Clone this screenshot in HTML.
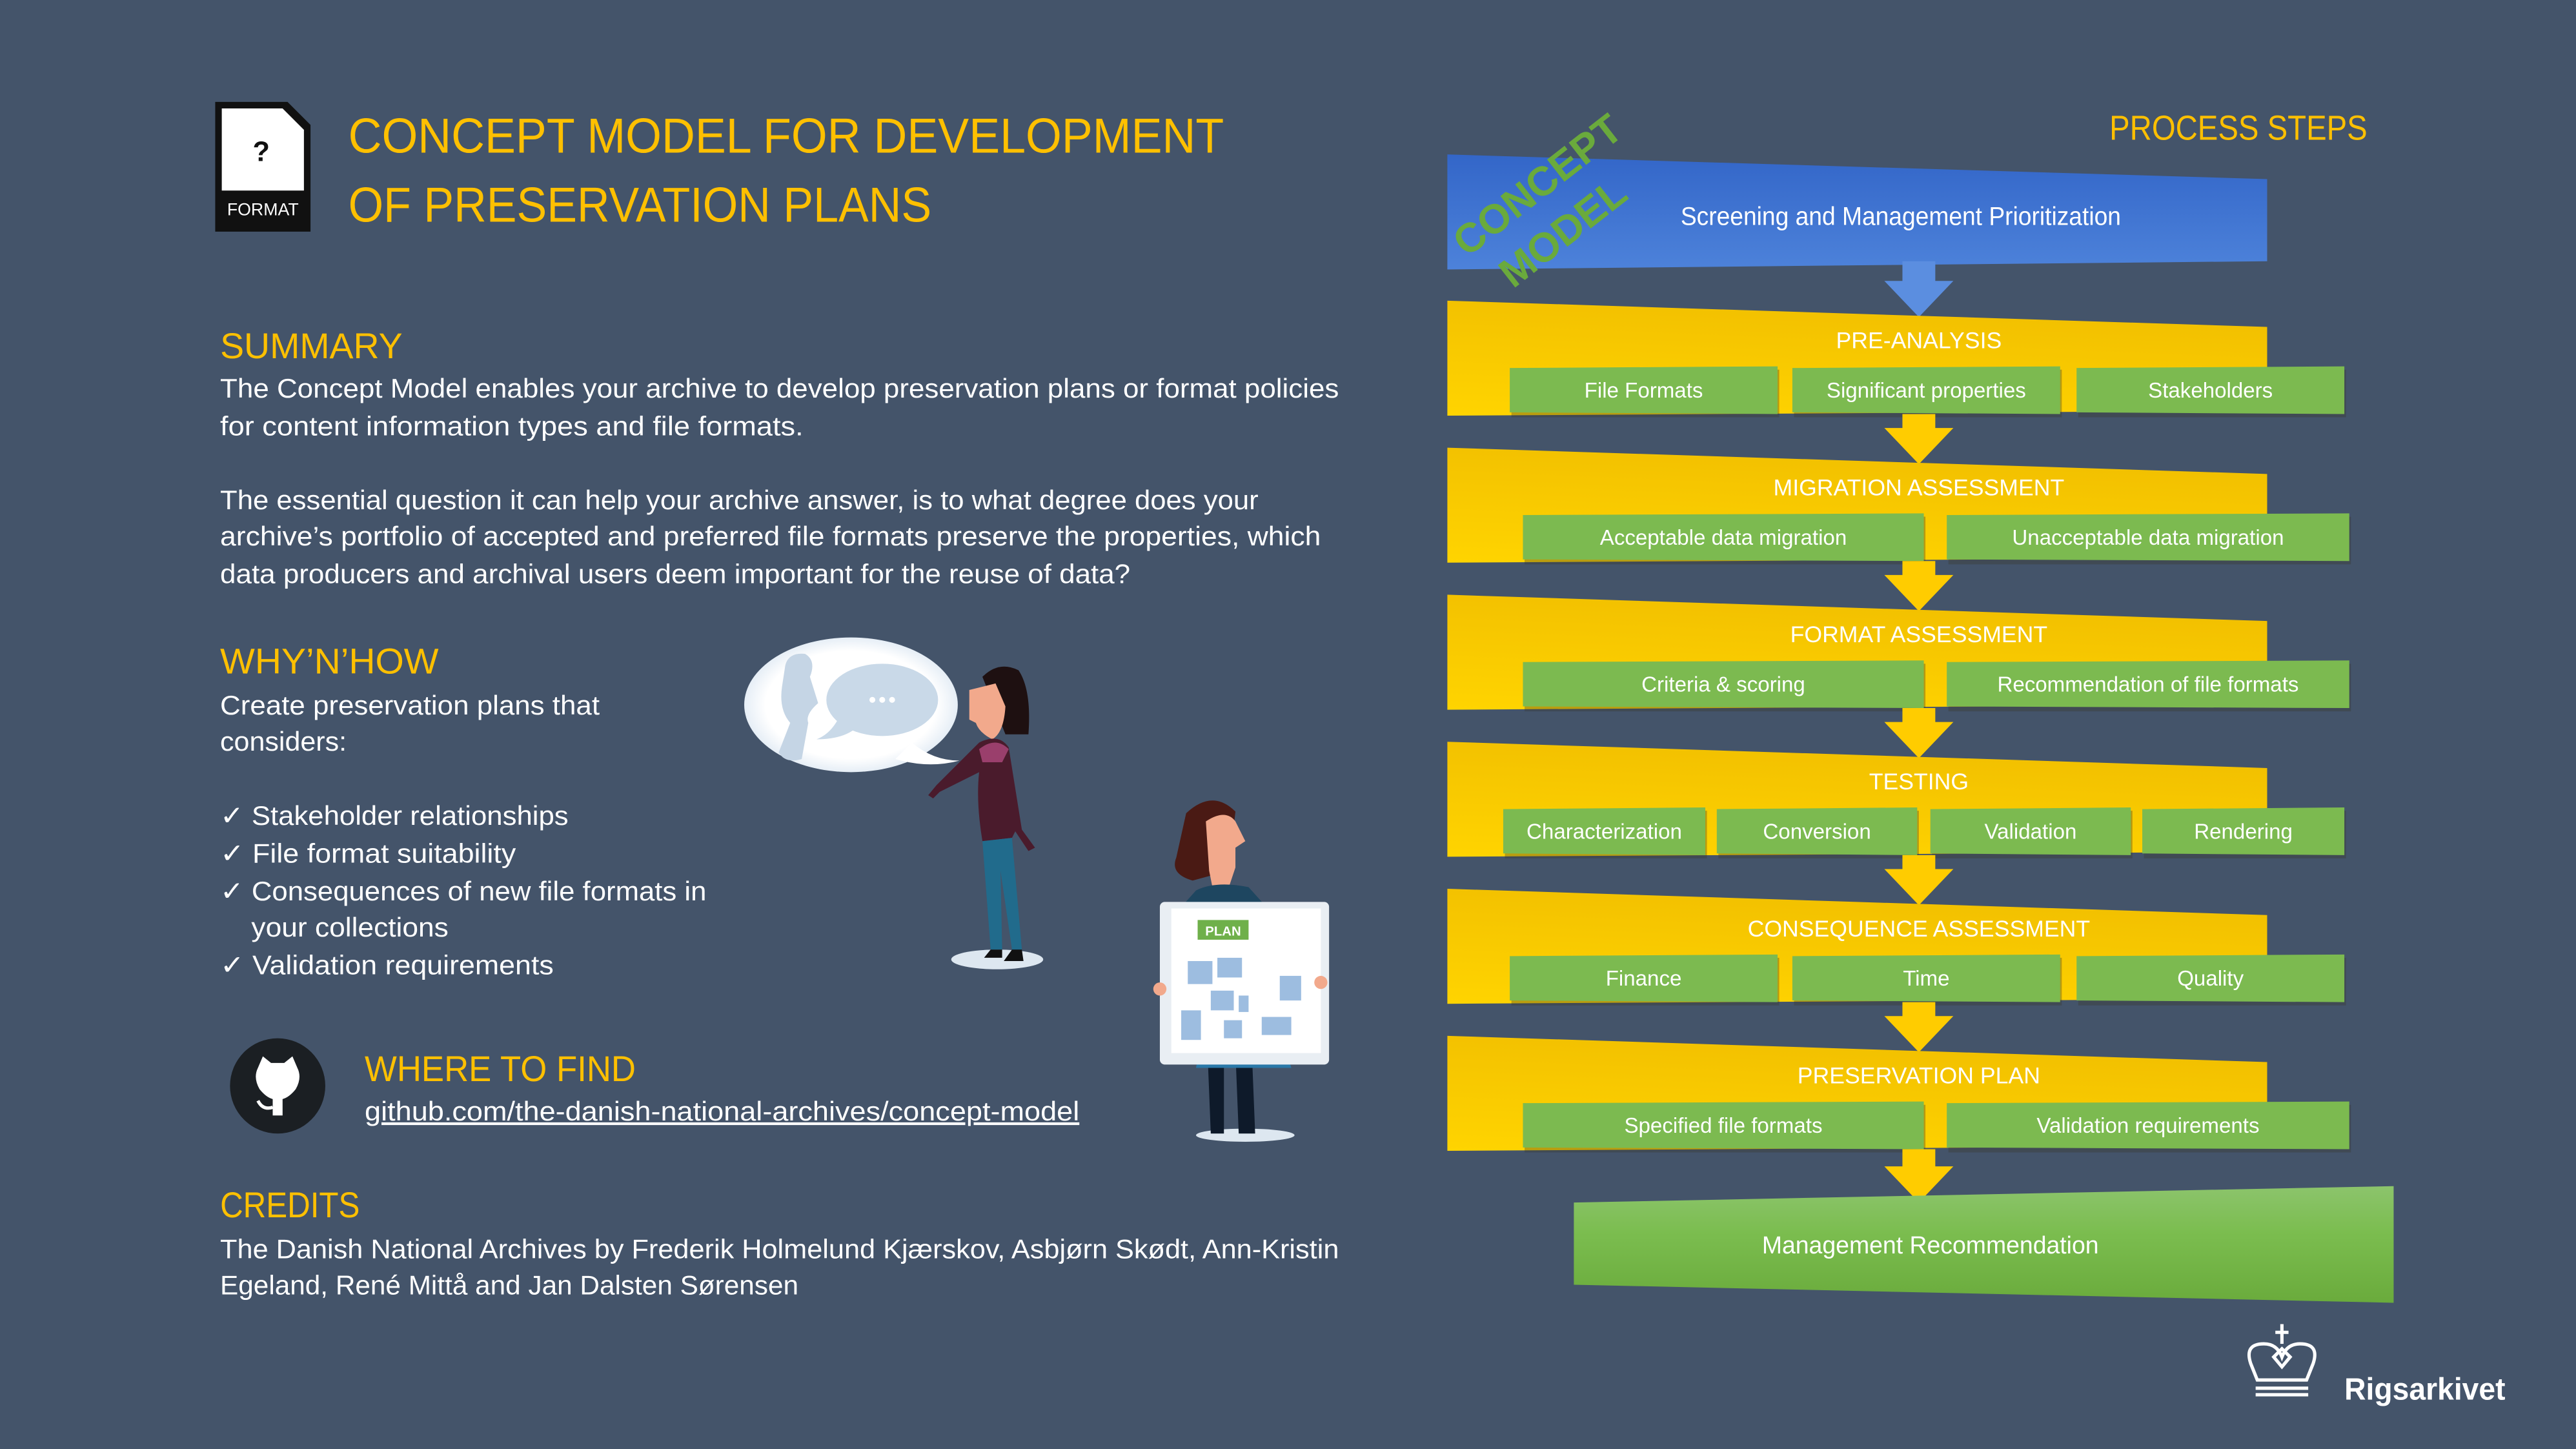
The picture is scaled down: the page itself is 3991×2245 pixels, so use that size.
<!DOCTYPE html>
<html><head><meta charset="utf-8">
<style>
html,body{margin:0;padding:0;background:#44546a;}
svg{display:block}
text{font-family:"Liberation Sans",sans-serif;}
</style></head>
<body>
<svg id="root" width="3991" height="2245" viewBox="0 0 1568 882" xmlns="http://www.w3.org/2000/svg">
<defs>
<linearGradient id="gy" x1="0" y1="1" x2="0.3" y2="0"><stop offset="0" stop-color="#ffd400"/><stop offset="1" stop-color="#f2c000"/></linearGradient>
<linearGradient id="gb" x1="0" y1="0" x2="0" y2="1"><stop offset="0" stop-color="#3366c8"/><stop offset="1" stop-color="#4d82da"/></linearGradient>
<linearGradient id="gg" x1="0" y1="0" x2="0" y2="1"><stop offset="0" stop-color="#8cc46c"/><stop offset="0.4" stop-color="#7bbd4f"/><stop offset="1" stop-color="#6aab3c"/></linearGradient>
<radialGradient id="bub"><stop offset="0.8" stop-color="#fff"/><stop offset="1" stop-color="#e6eef6"/></radialGradient>
</defs>
<rect x="0" y="0" width="1568" height="882" fill="#44546a"/>

<g>
<path d="M131,62 H175 L189,76 V141 H131 Z" fill="#111"/>
<path d="M135,66 H172 L185,79 V116 H135 Z" fill="#fff"/>
<text x="159" y="98" font-size="17" font-weight="bold" text-anchor="middle" fill="#111">?</text>
<text x="160" y="131" font-size="10.5" text-anchor="middle" fill="#fff">FORMAT</text>
</g>
<text x="212" y="93" font-size="30" fill="#ffc000" textLength="533" lengthAdjust="spacingAndGlyphs">CONCEPT MODEL FOR DEVELOPMENT</text>
<text x="212" y="135" font-size="30" fill="#ffc000" textLength="355" lengthAdjust="spacingAndGlyphs">OF PRESERVATION PLANS</text>

<g fill="#fff" font-size="16.5">
<text x="134" y="218" font-size="22" fill="#ffc000" textLength="111" lengthAdjust="spacingAndGlyphs">SUMMARY</text>
<text x="134" y="242" textLength="681" lengthAdjust="spacingAndGlyphs">The Concept Model enables your archive to develop preservation plans or format policies</text>
<text x="134" y="265" textLength="355" lengthAdjust="spacingAndGlyphs">for content information types and file formats.</text>
<text x="134" y="310" textLength="632" lengthAdjust="spacingAndGlyphs">The essential question it can help your archive answer, is to what degree does your</text>
<text x="134" y="332" textLength="670" lengthAdjust="spacingAndGlyphs">archive’s portfolio of accepted and preferred file formats preserve the properties, which</text>
<text x="134" y="355" textLength="554" lengthAdjust="spacingAndGlyphs">data producers and archival users deem important for the reuse of data?</text>
<text x="134" y="410" font-size="22" fill="#ffc000" textLength="133" lengthAdjust="spacingAndGlyphs">WHY’N’HOW</text>
<text x="134" y="435" textLength="231" lengthAdjust="spacingAndGlyphs">Create preservation plans that</text>
<text x="134" y="457" textLength="77" lengthAdjust="spacingAndGlyphs">considers:</text>
<text x="134" y="502" textLength="212" lengthAdjust="spacingAndGlyphs">✓ Stakeholder relationships</text>
<text x="134" y="525" textLength="180" lengthAdjust="spacingAndGlyphs">✓ File format suitability</text>
<text x="134" y="548" textLength="296" lengthAdjust="spacingAndGlyphs">✓ Consequences of new file formats in</text>
<text x="153" y="570" textLength="120" lengthAdjust="spacingAndGlyphs">your collections</text>
<text x="134" y="593" textLength="203" lengthAdjust="spacingAndGlyphs">✓ Validation requirements</text>
<text x="222" y="658" font-size="22" fill="#ffc000" textLength="165" lengthAdjust="spacingAndGlyphs">WHERE TO FIND</text>
<text x="222" y="682" text-decoration="underline" textLength="435" lengthAdjust="spacingAndGlyphs">github.com/the-danish-national-archives/concept-model</text>
<text x="134" y="741" font-size="22" fill="#ffc000" textLength="85" lengthAdjust="spacingAndGlyphs">CREDITS</text>
<text x="134" y="766" textLength="681" lengthAdjust="spacingAndGlyphs">The Danish National Archives by Frederik Holmelund Kjærskov, Asbjørn Skødt, Ann-Kristin</text>
<text x="134" y="788" textLength="352" lengthAdjust="spacingAndGlyphs">Egeland, René Mittå and Jan Dalsten Sørensen</text>
</g>

<g>
<circle cx="169" cy="661" r="29" fill="#1b1f23"/>
<path d="M157,650 L160,643 L165,647 H173 L178,643 L181,650 Q184,656 180,663 Q176,668 172,669 V679 H166 V669 Q162,668 158,663 Q154,656 157,650 Z" fill="#fff"/>
<path d="M166,674 Q160,676 157,670" stroke="#fff" stroke-width="2" fill="none"/>
</g>

<g>
<ellipse cx="518" cy="429" rx="65" ry="41" fill="url(#bub)"/>
<path d="M555,452 Q568,463 584,463 Q565,468 545,462 Z" fill="#fff"/>
<path d="M478,405 Q480,397 490,398 Q497,402 493,412 L498,428 Q490,435 492,440 L488,462 Q478,465 474,458 L481,440 Q474,432 476,418 Z" fill="#c5d5e5"/>
<ellipse cx="537" cy="426" rx="34" ry="22" fill="#c9d9e8"/>
<path d="M510,438 Q505,447 497,450 Q512,450 520,444 Z" fill="#c9d9e8"/>
<circle cx="531" cy="426" r="1.8" fill="#fff"/><circle cx="537" cy="426" r="1.8" fill="#fff"/><circle cx="543" cy="426" r="1.8" fill="#fff"/>
</g>
<g>
<ellipse cx="607" cy="584" rx="28" ry="6" fill="#dde7f0"/>
<path d="M598,412 Q608,402 620,408 Q628,420 626,447 L612,447 Z" fill="#1e1011"/>
<path d="M590,420 L606,416 L612,430 Q611,446 604,450 Q596,446 594,440 L590,438 Z" fill="#f2a98c"/>
<path d="M596,452 Q608,446 614,455 L622,505 L630,516 L626,518 L618,506 L616,510 L598,512 Q594,488 596,470 L572,482 L568,486 L565,484 L570,478 Z" fill="#4a1b2c"/>
<path d="M596,456 Q606,448 614,456 L610,464 L598,464 Z" fill="#9a3f6c"/>
<path d="M598,512 L616,510 L622,578 L616,578 L609,530 L610,578 L603,578 Z" fill="#216b8c"/>
<path d="M603,578 L610,578 L610,583 L599,583 Z M616,578 L622,578 L623,585 L611,585 Z" fill="#111"/>
</g>
<g>
<ellipse cx="758" cy="691" rx="30" ry="4" fill="#dde7f0"/>
<path d="M722,495 Q738,480 752,494 L748,530 L726,536 Q712,532 716,522 Z" fill="#4a1a14"/>
<path d="M734,500 Q746,492 752,500 L758,512 L752,516 L752,528 L748,540 L738,540 L736,530 Z" fill="#f2a98c"/>
<path d="M728,542 Q740,536 760,540 L778,560 L712,560 Z" fill="#1e4660"/>
<path d="M735,640 L745,640 L745,690 L737,690 Z M752,640 L762,640 L764,690 L754,690 Z" fill="#0e1a2a"/>
<path d="M732,630 L780,630 L786,650 L728,650 Z" fill="#2a78a8"/>
<rect x="706" y="549" width="103" height="99" rx="3" fill="#e9eef3"/>
<rect x="713" y="553" width="91" height="88" fill="#fff"/>
<rect x="729" y="560" width="31" height="12" fill="#6fb04a"/>
<text x="744.5" y="569.5" font-size="8" font-weight="bold" fill="#fff" text-anchor="middle">PLAN</text>
<g fill="#9dbde0">
<rect x="723" y="585" width="15" height="14"/><rect x="741" y="583" width="15" height="12"/><rect x="779" y="594" width="13" height="15"/>
<rect x="737" y="603" width="14" height="12"/><rect x="754" y="606" width="6" height="10"/>
<rect x="719" y="615" width="12" height="18"/><rect x="745" y="621" width="11" height="11"/><rect x="768" y="619" width="18" height="11"/>
</g>
<circle cx="706" cy="602" r="4" fill="#f2a98c"/><circle cx="804" cy="598" r="4" fill="#f2a98c"/>
</g>

<text x="1441" y="85" font-size="21" fill="#ffc000" text-anchor="end" textLength="157" lengthAdjust="spacingAndGlyphs">PROCESS STEPS</text>
<g id="flow"></g>
<g fill="#6aaa3c" font-size="25" font-weight="bold">
<text transform="translate(893,157) rotate(-38)">CONCEPT</text>
<text transform="translate(921,176) rotate(-38)">MODEL</text>
</g>

<g fill="none" stroke="#fff" stroke-width="2">
<line x1="1389" y1="806" x2="1389" y2="818"/><line x1="1385" y1="811" x2="1393" y2="811"/>
<path d="M1370,830 Q1366,818 1378,818 Q1386,818 1389,826 Q1392,818 1400,818 Q1412,818 1408,830 L1404,840 H1374 Z"/>
<path d="M1384,826 L1389,821 L1394,826 L1389,832 Z"/>
<line x1="1373" y1="845" x2="1405" y2="845"/><line x1="1373" y1="849" x2="1405" y2="849"/>
</g>
<text x="1427" y="852" font-size="19" font-weight="bold" fill="#fff" textLength="98" lengthAdjust="spacingAndGlyphs">Rigsarkivet</text>
</svg>

<script>
const stepTitles = ["PRE-ANALYSIS","MIGRATION ASSESSMENT","FORMAT ASSESSMENT","TESTING","CONSEQUENCE ASSESSMENT","PRESERVATION PLAN"];
const stepSubs = [
  ["File Formats","Significant properties","Stakeholders"],
  ["Acceptable data migration","Unacceptable data migration"],
  ["Criteria & scoring","Recommendation of file formats"],
  ["Characterization","Conversion","Validation","Rendering"],
  ["Finance","Time","Quality"],
  ["Specified file formats","Validation requirements"]
];
const topLabel = "Screening and Management Prioritization";
const bottomLabel = "Management Recommendation";

const NS="http://www.w3.org/2000/svg";
const flow=document.getElementById('flow');
function mk(tag,attrs,parent){const e=document.createElementNS(NS,tag);for(const k in attrs)e.setAttribute(k,attrs[k]);(parent||flow).appendChild(e);return e;}
const L=881,R=1380,CX=1168,first=183,period=89.5;
const layouts={3:[[919,1082],[1091,1254],[1264,1427]],2:[[927,1171],[1185,1430]],4:[[915,1038],[1045,1167],[1175,1297],[1304,1427]]};

function arrow(y0,y1,color){
  const a=mk('path',{d:`M${CX-10},${y0} H${CX+10} V${y1-22} H${CX+21} L${CX},${y1} L${CX-21},${y1-22} H${CX-10} Z`,fill:color});
  
  
}

const blue=mk('polygon',{points:`${L},94 ${R},109 ${R},159 ${L},164`,fill:'url(#gb)'});


const bt=mk('text',{x:1157,y:137,'font-size':15.5,fill:'#fff','text-anchor':'middle',textLength:268,lengthAdjust:'spacingAndGlyphs'});
bt.textContent=topLabel;


arrow(159,first+10,'#5b8ee0');

stepTitles.forEach((title,i)=>{
  const t=first+i*period;
  const g=mk('g',{});
  
  
  mk('polygon',{points:`${L},${t} ${R},${t+16} ${R},${t+67} ${L},${t+70}`,fill:'url(#gy)'},g);
  const tt=mk('text',{x:CX,y:t+29,'font-size':14,fill:'#fff','text-anchor':'middle'},g);
  tt.textContent=title;
  
  
  const subs=stepSubs[i];
  const lay=layouts[subs.length];
  subs.forEach((s,j)=>{
    const [x0,x1]=lay[j];
    mk('rect',{x:x0+1,y:t+42,width:x1-x0,height:29,fill:'#3a3a2a',opacity:0.35},g);
    const b=mk('polygon',{points:`${x0},${t+41} ${x1},${t+40} ${x1},${t+69} ${x0},${t+68}`,fill:'#7cba50'},g);
    
    
    const st=mk('text',{x:(x0+x1)/2,y:t+59,'font-size':13,fill:'#fff','text-anchor':'middle'},g);
    st.textContent=s;
    
    
  });
  const next=first+(i+1)*period;
  arrow(t+69,i<stepTitles.length-1?next+10:732,'#ffcc00');
});

const gm=mk('polygon',{points:`958,732 1457,722 1457,793 958,782`,fill:'url(#gg)'});


const gt=mk('text',{x:1175,y:763,'font-size':15,fill:'#fff','text-anchor':'middle',textLength:205,lengthAdjust:'spacingAndGlyphs'});
gt.textContent=bottomLabel;


</script>
</body></html>
